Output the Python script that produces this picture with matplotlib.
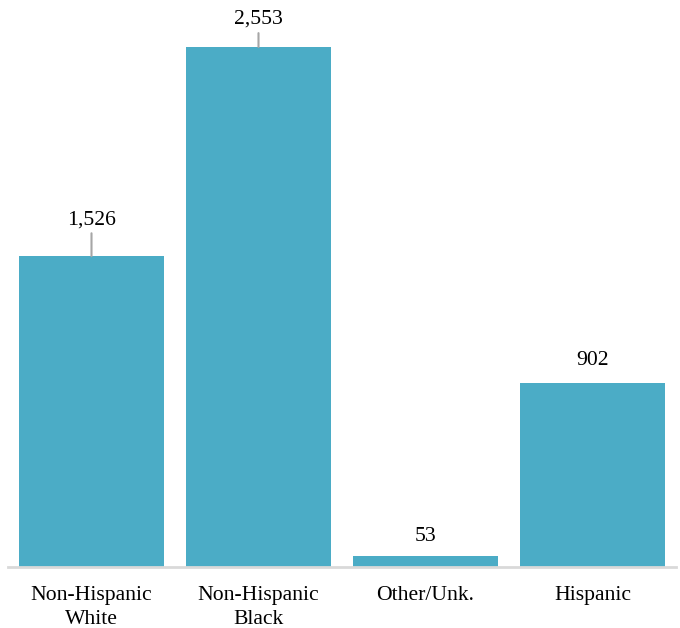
import matplotlib
matplotlib.use('Agg')
import matplotlib.pyplot as plt
import numpy as np

categories = ['Non-Hispanic\nWhite', 'Non-Hispanic\nBlack', 'Other/Unk.', 'Hispanic']
values = [1526, 2553, 53, 902]
value_labels = ['1,526', '2,553', '53', '902']
# label offset above bar top (points) and leader line length (points, 0 = none)
label_offsets = [26, 20, 14, 16.5]
leader_lengths = [16.5, 10, 0, 0]

bar_color = '#4BACC6'
lead_color = '#A6A6A6'

plt.rcParams['font.family'] = ['Liberation Serif', 'DejaVu Serif']

fig = plt.figure(figsize=(6.8, 6.28), dpi=100)
ax = fig.add_axes([8 / 680, 61 / 628, 668 / 680, 567 / 628])

x = np.arange(len(values))
ax.bar(x, values, width=0.868, color=bar_color, zorder=2)

ax.set_xlim(-0.5, len(values) - 0.5)
ax.set_ylim(0, 2553 * 567 / 520)

for i, v in enumerate(values):
    ax.annotate(value_labels[i], xy=(i, v), xytext=(0, label_offsets[i]),
                textcoords='offset points', ha='center', va='center',
                fontsize=15.6, color='black', annotation_clip=False)
    if leader_lengths[i] > 0:
        ax.annotate('', xy=(i, v), xytext=(0, leader_lengths[i]),
                    textcoords='offset points', annotation_clip=False,
                    arrowprops=dict(arrowstyle='-', color=lead_color, lw=1.5,
                                    shrinkA=0, shrinkB=0))

for s in ['top', 'right', 'left']:
    ax.spines[s].set_visible(False)
ax.spines['bottom'].set_color('#D9D9D9')
ax.spines['bottom'].set_linewidth(2)
ax.spines['bottom'].set_zorder(3)

ax.set_yticks([])
ax.set_xticks(x)
ax.set_xticklabels(categories, fontsize=15.6, linespacing=1.3)
ax.tick_params(axis='x', length=0, pad=14)

fig.savefig('out.png', dpi=100)
